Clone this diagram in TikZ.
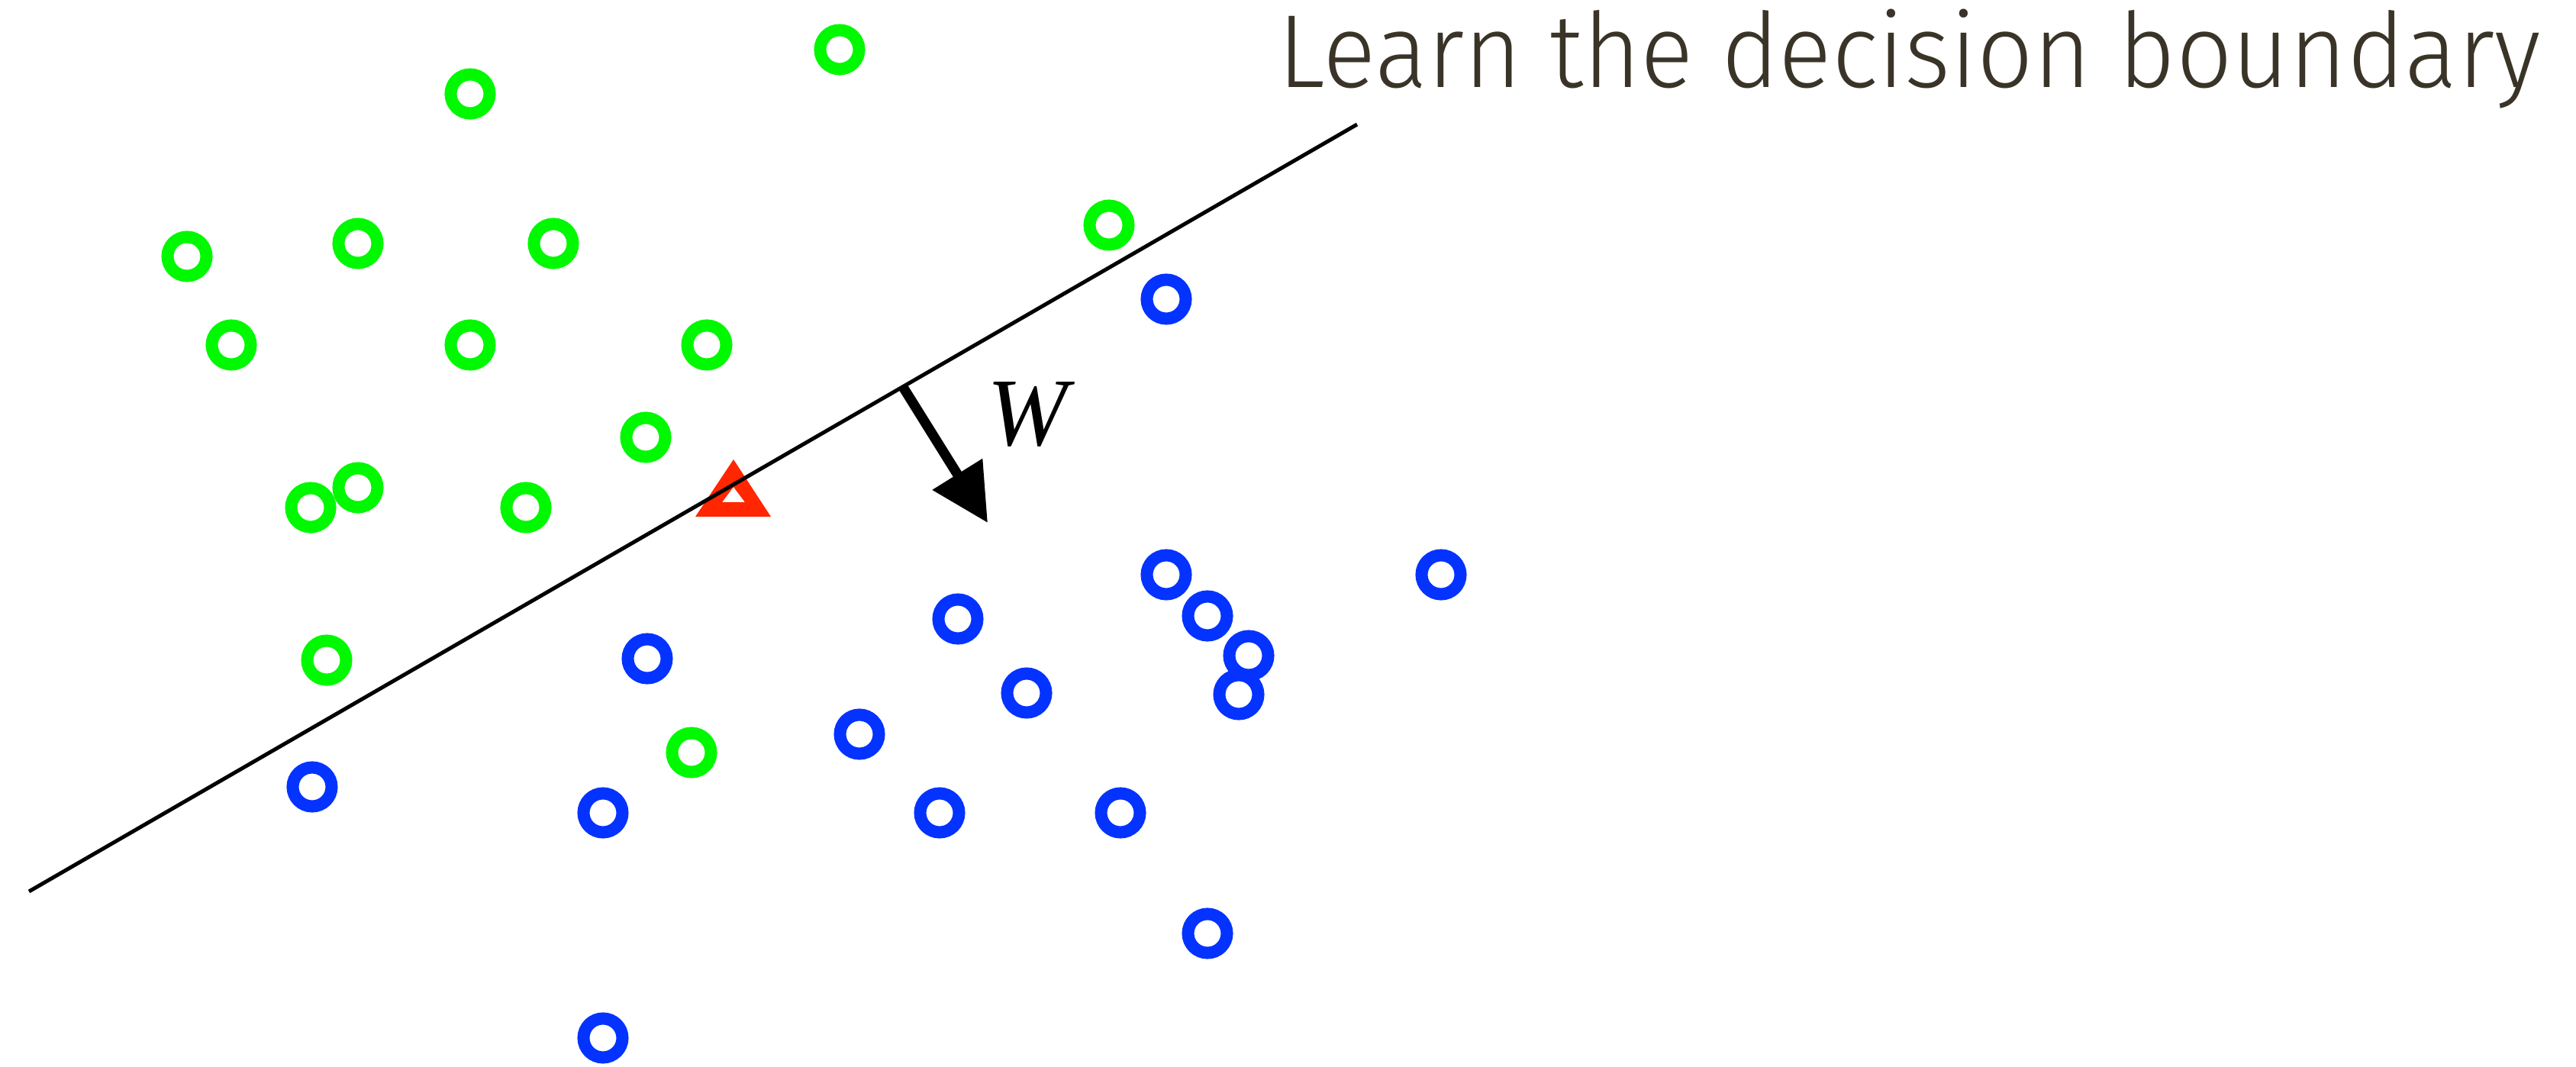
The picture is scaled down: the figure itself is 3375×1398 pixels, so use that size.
\documentclass[tikz,border=0pt]{standalone}
\usepackage{fontspec}
\usepackage{tikz}
\usetikzlibrary{arrows.meta, positioning}
\newfontfamily\titlefont{Fira Sans Light}
\newfontfamily\wfont{Liberation Serif}
\definecolor{ptgreen}{RGB}{0,249,0}
\definecolor{ptblue}{RGB}{4,51,255}
\definecolor{ptred}{RGB}{255,38,0}
\definecolor{titlegray}{RGB}{58,52,40}

\begin{document}
\begin{tikzpicture}[x=0.01cm, y=-0.01cm,
    greenpt/.style={circle, draw=ptgreen, line width=0.16cm, minimum size=0.51cm, inner sep=0pt},
    bluept/.style={circle, draw=ptblue, line width=0.16cm, minimum size=0.51cm, inner sep=0pt}]
    \useasboundingbox (0,0) rectangle (3375,1398);

    % Title
    \node[anchor=base west, text=titlegray, inner sep=0pt, xscale=0.95] (title) at (1674,115)
        {\titlefont\fontsize{38.7pt}{40pt}\selectfont Learn the decision boundary};

    % Green class
    \node[greenpt] (g1) at (1100,65) {};
    \node[greenpt] (g2) at (616,123) {};
    \node[greenpt] (g3) at (245,336) {};
    \node[greenpt] (g4) at (469,319) {};
    \node[greenpt] (g5) at (725,319) {};
    \node[greenpt] (g6) at (303,452) {};
    \node[greenpt] (g7) at (616,452) {};
    \node[greenpt] (g8) at (926,452) {};
    \node[greenpt] (g9) at (846,573) {};
    \node[greenpt] (g11) at (407,665) {};
    \node[greenpt] (g10) at (469,639) {};
    \node[greenpt] (g12) at (689,665) {};
    \node[greenpt] (g13) at (428,865) {};
    \node[greenpt] (g14) at (906,986) {};
    \node[greenpt] (g15) at (1453,295) {};

    % Blue class
    \node[bluept] (b1) at (1528,392) {};
    \node[bluept] (b2) at (1528,753) {};
    \node[bluept] (b3) at (1582,807) {};
    \node[bluept] (b5) at (1623,910) {};
    \node[bluept] (b4) at (1636,859) {};
    \node[bluept] (b6) at (1888,753) {};
    \node[bluept] (b7) at (1255,811) {};
    \node[bluept] (b8) at (1345,908) {};
    \node[bluept] (b9) at (848,863) {};
    \node[bluept] (b10) at (1126,962) {};
    \node[bluept] (b11) at (409,1031) {};
    \node[bluept] (b12) at (790,1065) {};
    \node[bluept] (b13) at (1231,1065) {};
    \node[bluept] (b14) at (1468,1065) {};
    \node[bluept] (b15) at (1582,1223) {};
    \node[bluept] (b16) at (790,1360) {};

    % Query point
    \fill[ptred, even odd rule] (961,602) -- (1010,677) -- (911,677) -- cycle
        (961,638) -- (976,658) -- (946,658) -- cycle;

    % Decision boundary
    \coordinate (bl) at (38,1168);
    \coordinate (br) at (1778,163);
    \draw[line width=0.05cm] (bl) -- (br);

    % Normal vector
    \coordinate (wstart) at (1183,507);
    \coordinate (wtip) at (1294,685);
    \draw[line width=0.13cm, -{Triangle[length=0.75cm, width=0.74cm]}] (wstart) -- (wtip);
    \node[inner sep=0pt] (wlabel) at (1346,543) {\wfont\itshape\fontsize{36pt}{38pt}\selectfont W};
\end{tikzpicture}
\end{document}
